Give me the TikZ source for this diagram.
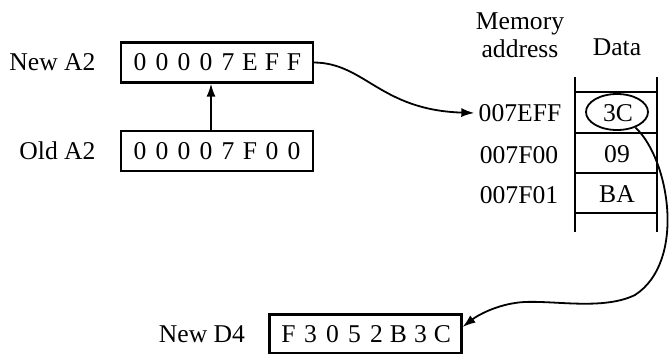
\documentclass[tikz,border=0pt]{standalone}
\usepackage{fontspec}
\setmainfont{Liberation Serif}
\usepackage{tikz}
\usetikzlibrary{shapes,arrows.meta,positioning,calc}

% hex digits set on a fixed pitch
\newcommand\hexword[1]{\foreach \c in {#1}{\makebox[11pt]{\c}}}

\tikzset{
  txt/.style={font=\fontsize{12.8}{14}\selectfont, inner sep=0pt},
  reg/.style={draw, line width=1.1pt, minimum width=96pt, minimum height=20pt,
              inner sep=0pt, font=\fontsize{12.8}{14}\selectfont},
  link/.style={line width=0.9pt, -{Latex[length=6.5pt,width=4.5pt]}},
  mem/.style={line width=0.9pt}
}

\begin{document}
\begin{tikzpicture}[x=0.5pt,y=-0.5pt]
    \useasboundingbox (0,0) rectangle (671,354);

    % address registers
    \node[reg] (a2new) at (217,62.5) {\hexword{0,0,0,0,7,E,F,F}};
    \node[reg] (a2old) at (217,151) {\hexword{0,0,0,0,7,F,0,0}};
    \node[txt, left=12pt of a2new] {New A2};
    \node[txt, left=12pt of a2old] {Old A2};
    \draw[link] ([xshift=-3pt]a2old.north) -- ([xshift=-3pt]a2new.south);

    % memory column
    \node[txt, align=center] (hdaddr) at (520,35) {Memory\\address};
    \node[txt, anchor=base] (hddata) at (617,55) {Data};
    \draw[mem] (575,77) -- (575,232);
    \draw[mem] (657,77) -- (657,232);
    \foreach \y in {92,133,173,213}
        \draw[mem] (575,\y) -- (657,\y);

    \node[txt] (m0) at (520,113) {007EFF};
    \node[txt] (m1) at (519,155) {007F00};
    \node[txt] (m2) at (519,195) {007F01};
    \node[txt] (c0) at (618,113) {3C};
    \node[txt] (c1) at (617,154) {09};
    \node[txt] (c2) at (617,194) {BA};
    \node[draw, ellipse, line width=0.9pt, minimum width=31pt, minimum height=18pt,
          inner sep=0pt] (pick) at (617,112) {};

    % data register
    \node[reg, minimum height=19.5pt] (d4new) at (365.5,334) {\hexword{F,3,0,5,2,B,3,C}};
    \node[txt, left=11.5pt of d4new] {New D4};

    % address points to memory, byte goes to D4
    \draw[link] (a2new.east) .. controls (365,63) and (380,110) .. ([xshift=-2pt]m0.west);
    \draw[link] (pick.-40) .. controls (670,160) and (686,262) .. (635,295)
                .. controls (600,312) and (545,298) .. (515,303)
                .. controls (495,306) and (478,315) .. ([yshift=3.5pt]d4new.east);
\end{tikzpicture}
\end{document}
